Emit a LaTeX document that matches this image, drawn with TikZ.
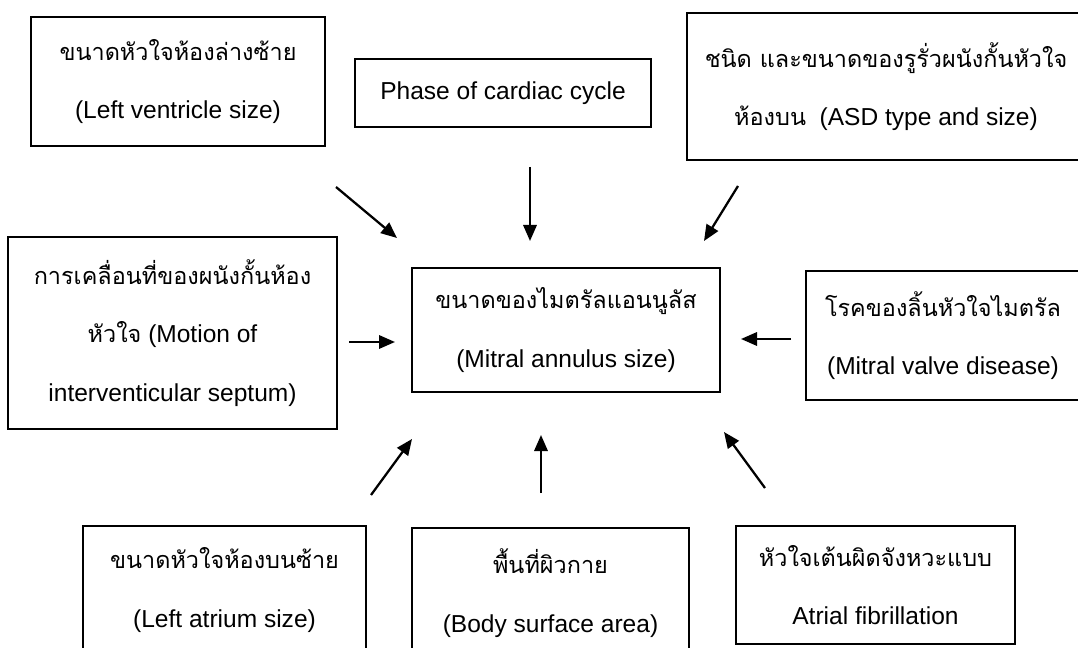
\documentclass[tikz,border=0pt]{standalone}
\usepackage{fontspec}
\setmainfont{Liberation Sans}
\newfontfamily\thaifont[Script=Thai, Scale=0.955]{Loma}
\usetikzlibrary{arrows.meta}
\newcommand{\thtext}[1]{{\thaifont #1}}
\tikzset{
    box/.style={draw, line width=1.1pt, align=center, inner sep=0pt,
        font=\fontsize{18.4}{44}\selectfont}, % riquadri con testo
    arrow/.style={line width=1.7pt, -{Triangle[length=12pt, width=10pt]}}, % frecce
}

\begin{document}
\begin{tikzpicture}[x=0.75pt, y=-0.75pt]
        \clip (0,0) rectangle (1078,648);
        % Riquadri
        \node[box, minimum width=220.5pt, minimum height=96.75pt] (lv) at (178,81.5)
            {\thtext{ขนาดหัวใจห้องล่างซ้าย}\\(Left ventricle size)};
        \node[box, minimum width=222pt, minimum height=51pt] (phase) at (503,93)
            {Phase of cardiac cycle};
        \node[box, minimum width=298.5pt, minimum height=110.25pt] (asd) at (886,86.5)
            {\thtext{ชนิด และขนาดของรูรั่วผนังกั้นหัวใจ}\\\thtext{ห้องบน}~~(ASD type and size)};
        \node[box, minimum width=246.75pt, minimum height=144pt] (ivs) at (172.5,333)
            {\thtext{การเคลื่อนที่ของผนังกั้นห้อง}\\\thtext{หัวใจ} (Motion of\\interventicular septum)};
        \node[box, minimum width=231pt, minimum height=93pt] (mas) at (566,330)
            {\thtext{ขนาดของไมตรัลแอนนูลัส}\\(Mitral annulus size)};
        \node[box, minimum width=205.5pt, minimum height=96.75pt] (mvd) at (943,335.5)
            {\thtext{โรคของลิ้นหัวใจไมตรัล}\\(Mitral valve disease)};
        \node[box, minimum width=212.25pt, minimum height=96pt] (la) at (224.5,590)
            {\thtext{ขนาดหัวใจห้องบนซ้าย}\\(Left atrium size)};
        \node[box, minimum width=207.75pt, minimum height=97.5pt] (bsa) at (550.5,593)
            {\thtext{พื้นที่ผิวกาย}\\(Body surface area)};
        \node[box, minimum width=209.25pt, minimum height=88.5pt] (af) at (875.5,585)
            {\thtext{หัวใจเต้นผิดจังหวะแบบ}\\Atrial fibrillation};

        % Estremi delle frecce
        \coordinate (lv1) at (336,187);    \coordinate (lv2) at (397,238);
        \coordinate (phase1) at (530,167); \coordinate (phase2) at (530,241);
        \coordinate (asd1) at (738,186);   \coordinate (asd2) at (704,241);
        \coordinate (ivs1) at (349,342);   \coordinate (ivs2) at (395,342);
        \coordinate (mvd1) at (791,339);   \coordinate (mvd2) at (741,339);
        \coordinate (la1) at (371,495);    \coordinate (la2) at (412,439);
        \coordinate (bsa1) at (541,493);   \coordinate (bsa2) at (541,435);
        \coordinate (af1) at (765,488);    \coordinate (af2) at (724,432);

        % Frecce
        \foreach \f in {lv,phase,asd,ivs,mvd,la,bsa,af}
            \draw[arrow] (\f1) -- (\f2);
\end{tikzpicture}
\end{document}
